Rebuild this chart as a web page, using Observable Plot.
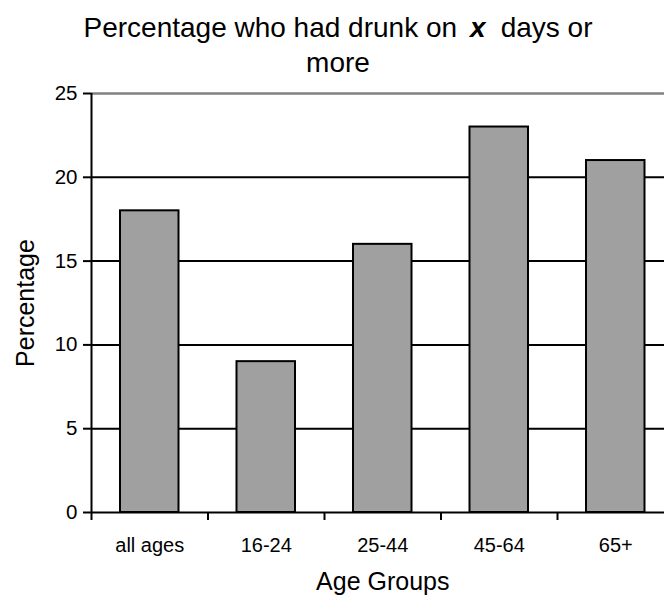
<!DOCTYPE html>
<html>
<head>
<meta charset="utf-8">
<script src="https://cdn.jsdelivr.net/npm/d3@7"></script>
<script src="https://cdn.jsdelivr.net/npm/@observablehq/plot@0.6"></script>
<style>
  html, body { margin: 0; padding: 0; background: #fff; overflow: hidden; }
  body { width: 664px; height: 597px; font-family: "Liberation Sans", Arial, sans-serif; }
  #title { height: 80px; box-sizing: border-box; padding-top: 10px; padding-left: 12px; text-align: center; font-size: 28px; line-height: 35px; color: #000; }
  #title div { height: 35px; white-space: nowrap; }
  #title .v { display: inline-block; font-weight: bold; font-style: italic; margin-left: 13px; margin-right: 15px; }
  #chart svg { display: block; overflow: hidden; }
</style>
</head>
<body>
<div id="title"><div><span>Percentage who had drunk on</span><span class="v">x</span><span>days or</span></div><div><span>more</span></div></div>
<div id="chart"></div>
<script>
const groups = ["all ages", "16-24", "25-44", "45-64", "65+"];
const values = [18, 9, 16, 23, 21];
const yTicks = [0, 5, 10, 15, 20, 25];
const gridBlack = [5, 10, 15, 20];
const gridTop = [25];
const yLabel = "Percentage";
const xLabel = "Age Groups";

const data = groups.map((g, i) => ({group: g, value: values[i], i}));
const boundaries = d3.range(groups.length + 1);

const chart = Plot.plot({
  width: 664,
  height: 517,
  marginTop: 13,
  marginBottom: 85,
  marginLeft: 91,
  marginRight: 0,
  style: {fontFamily: "'Liberation Sans', Arial, sans-serif", color: "#000", background: "#fff"},
  x: {type: "linear", domain: [0, groups.length], range: [91, 673.5], axis: null},
  y: {domain: [0, 25], axis: null},
  marks: [
    Plot.ruleY(gridBlack, {stroke: "#000", strokeWidth: 2}),
    Plot.ruleY(gridTop, {stroke: "#808080", strokeWidth: 2.5}),
    Plot.rectY(data, {x1: "i", x2: d => d.i + 1, y: "value", insetLeft: 29, insetRight: 29, fill: "#a0a0a0", stroke: "#000", strokeWidth: 2}),
    Plot.ruleX([0], {y1: 0, y2: 25, stroke: "#000", strokeWidth: 2}),
    Plot.ruleY([0], {stroke: "#000", strokeWidth: 2}),
    Plot.axisY({ticks: yTicks, tickSize: 8, tickPadding: 6, fontSize: 20.5, strokeWidth: 2, label: null}),
    Plot.axisX({ticks: boundaries, tickSize: 8, tickFormat: () => "", strokeWidth: 2, label: null}),
    Plot.text(data, {x: d => d.i + 0.5, y: 0, text: "group", dy: 33, fontSize: 20}),
    Plot.text([xLabel], {x: groups.length / 2, y: 0, text: d => d, dy: 69, fontSize: 25}),
    Plot.text([yLabel], {frameAnchor: "left", dx: -66, rotate: -90, textAnchor: "middle", text: d => d, fontSize: 25})
  ]
});
document.getElementById("chart").appendChild(chart);
</script>
</body>
</html>
